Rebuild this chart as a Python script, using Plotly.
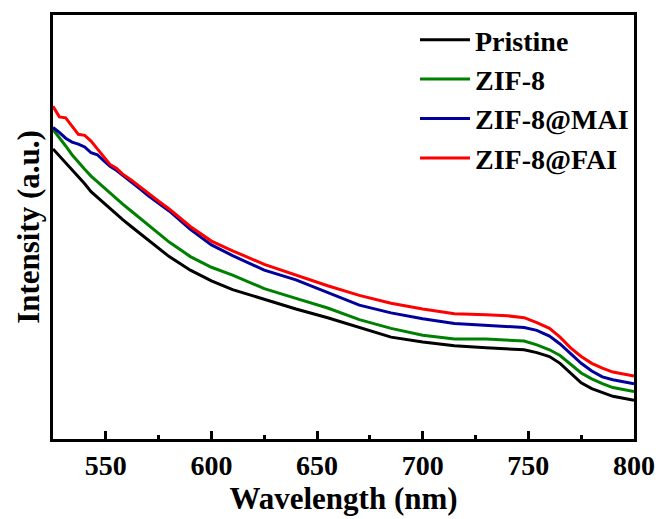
import plotly.graph_objects as go

wavelength = [525, 528, 531, 534, 537, 540, 543, 546, 549, 552, 555, 558, 562, 566, 570,
              575, 580, 590, 600, 610, 625, 640, 655, 670, 685, 700, 715, 730, 740, 748,
              754, 760, 765, 770, 775, 780, 785, 790, 795, 800]

pristine = [299, 292, 285, 278, 271, 263, 255, 249, 243, 237, 231, 226, 219, 212, 205,
            196, 188, 174, 163, 154, 144, 134, 125, 115, 105, 100, 96, 94, 93, 92,
            89, 85, 78, 68, 58, 52, 48, 44, 42, 40]

zif8 = [319, 311, 302, 293, 285, 278, 271, 265, 259, 253, 248, 242, 235, 228, 221,
        212, 203, 188, 177, 169, 155, 145, 135, 123, 114, 107, 103, 103, 102, 101,
        97, 92, 86, 77, 68, 62, 57, 53, 51, 49]

zif8_mai = [321, 316, 310, 306, 304, 301, 295, 293, 287, 281, 277, 272, 265, 258, 251,
            243, 235, 216, 200, 189, 174, 164, 151, 138, 130, 124, 119, 117, 116, 115,
            112, 106, 98, 88, 78, 70, 64, 61, 59, 57]

zif8_fai = [343, 332, 331, 323, 314, 313, 307, 299, 291, 283, 279, 273, 267, 260, 253,
            245, 237, 219, 204, 194, 180, 169, 158, 148, 140, 134, 129, 128, 127, 125,
            120, 114, 105, 94, 85, 78, 73, 69, 67, 65]

names = ["Pristine", "ZIF-8", "ZIF-8@MAI", "ZIF-8@FAI"]
colors = ["#000000", "#008000", "#00009C", "#FF0000"]
series = [pristine, zif8, zif8_mai, zif8_fai]

FONT = "Times New Roman, Liberation Serif, serif"

fig = go.Figure()
for name, col, ys in zip(names, colors, series):
    fig.add_trace(go.Scatter(x=wavelength, y=ys, mode="lines", name=name,
                             line=dict(color=col, width=3)))

fig.update_layout(
    width=667, height=519,
    margin=dict(l=53, r=26, t=14, b=68),
    paper_bgcolor="white", plot_bgcolor="white",
    font=dict(family=FONT, size=28, color="black", weight=700),
    showlegend=True,
    legend=dict(x=1.0, xanchor="right", y=1.0, yanchor="top",
                bgcolor="rgba(0,0,0,0)", font=dict(size=28, family=FONT, weight=700),
                itemwidth=50, tracegroupgap=0),
)
fig.update_xaxes(
    range=[525, 800], tick0=500, dtick=50, ticks="inside", ticklen=8, tickwidth=2.5,
    tickcolor="black", showline=True, linewidth=2.5, linecolor="black", mirror=True,
    showgrid=False, zeroline=False,
    minor=dict(tick0=525, dtick=25, ticks="inside", ticklen=4, tickwidth=2.5, tickcolor="black"),
    tickfont=dict(size=28, family=FONT, weight=700),
    title=dict(text="Wavelength (nm)", font=dict(size=31, family=FONT, weight=700), standoff=4),
)
fig.update_yaxes(
    range=[0, 437], showticklabels=False, ticks="", showline=True, linewidth=2.5,
    linecolor="black", mirror=True, showgrid=False, zeroline=False,
    title=dict(text="Intensity (a.u.)", font=dict(size=31, family=FONT, weight=700), standoff=2),
)

fig.write_html("out.html")
